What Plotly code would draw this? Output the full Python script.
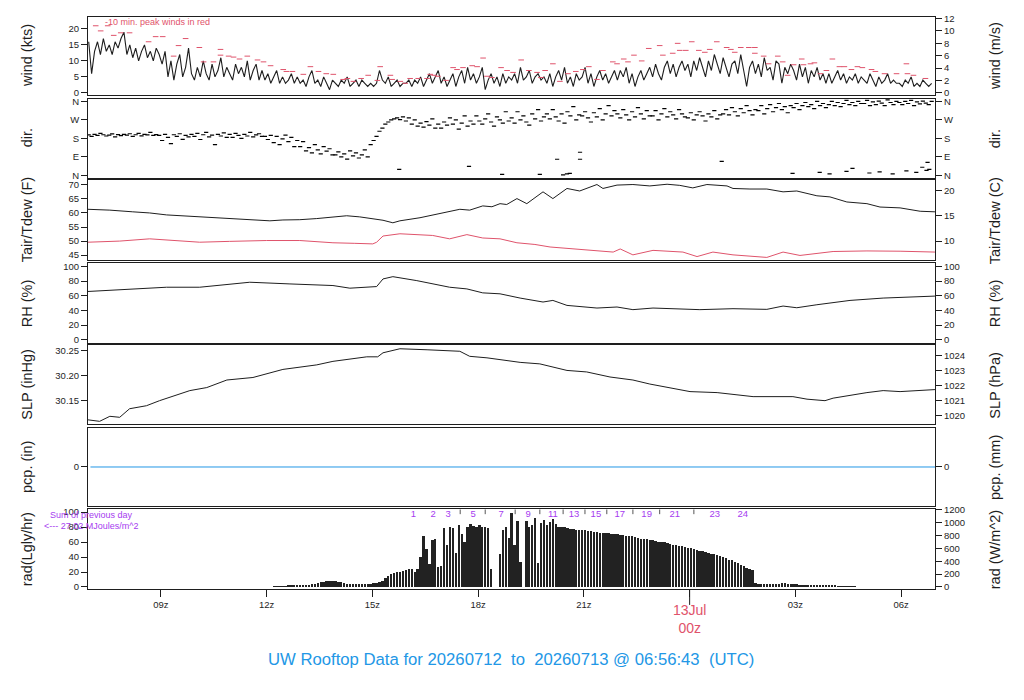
import numpy as np
import pandas as pd
import plotly.graph_objects as go

# ---------------- time helpers ----------------
BASE = pd.Timestamp("2026-07-12 00:00")
SERIES_START = "2026-07-12 06:57"
X0 = pd.Timestamp("2026-07-12 06:55:50")
X1 = pd.Timestamp("2026-07-13 06:57:40")


def hrs(h):
    return BASE + pd.to_timedelta(np.asarray(h, dtype=float), unit="h")


# ---------------- data ----------------
# 5-minute wind speed (kts), one row per hour starting 06:57z
wind_kts_rows = [
    [16, 6, 13, 16, 12, 17, 13, 15, 12, 16, 14, 17],
    [19, 12, 15, 11, 14, 10, 13, 15, 11, 13, 10, 14],
    [12, 9, 13, 5, 10, 4, 9, 12, 5, 8, 14, 6],
    [4, 8, 5, 10, 6, 4, 9, 5, 7, 11, 5, 8],
    [6, 4, 9, 6, 8, 5, 10, 4, 7, 9, 4, 7],
    [4, 6, 3, 5, 7, 3, 5, 3, 4, 6, 3, 5],
    [3, 4, 2, 5, 7, 3, 4, 2, 5, 3, 1, 4],
    [3, 2, 4, 3, 5, 2, 3, 4, 2, 4, 3, 2],
    [3, 2, 3, 7, 4, 3, 5, 2, 3, 4, 2, 3],
    [3, 4, 2, 4, 3, 5, 2, 4, 6, 3, 5, 7],
    [3, 5, 2, 4, 6, 2, 5, 7, 3, 8, 4, 6],
    [3, 5, 8, 1, 4, 6, 3, 5, 2, 6, 3, 5],
    [4, 6, 3, 8, 4, 5, 7, 3, 5, 6, 4, 5],
    [3, 6, 2, 5, 7, 4, 8, 3, 5, 2, 6, 4],
    [5, 8, 3, 6, 2, 5, 7, 4, 6, 3, 5, 7],
    [4, 7, 5, 8, 3, 6, 2, 5, 7, 4, 6, 8],
    [5, 9, 6, 4, 8, 10, 6, 9, 5, 8, 10, 7],
    [9, 5, 10, 7, 11, 8, 5, 10, 7, 12, 9, 6],
    [11, 8, 5, 9, 10, 6, 12, 7, 2, 8, 10, 6],
    [9, 5, 11, 7, 8, 4, 10, 9, 3, 8, 6, 9],
    [7, 4, 9, 5, 8, 3, 7, 5, 8, 4, 6, 3],
    [6, 3, 5, 7, 4, 6, 3, 5, 4, 6, 3, 5],
    [4, 3, 6, 4, 2, 5, 3, 4, 6, 3, 4, 3],
    [3, 2, 4, 3, 5, 2, 3, 2, 4, 3, 2, 3],
]

# 10-minute peak winds (hours after 00z Jul 12, kts)
peak_hours = [7.15, 7.29, 7.49, 7.66, 7.86, 8.11, 8.65, 8.85, 9.05, 9.36, 9.50, 9.70,
              10.09, 10.21, 10.49, 10.69, 10.69, 10.92, 11.06, 11.23, 11.45, 11.74, 11.91,
              12.11, 12.47, 12.56, 12.73, 13.04, 13.24, 13.47, 13.69, 13.89, 14.17, 14.29,
              14.46, 14.68, 14.88, 15.14, 15.22, 15.51, 15.56, 15.79, 15.93, 16.07, 16.30,
              16.55, 16.64, 16.75, 16.86, 17.09, 17.29, 17.40, 17.57, 17.83, 17.97, 18.14,
              18.25, 18.39, 18.65, 18.82, 18.99, 19.22, 19.44, 19.67, 19.78, 19.90, 20.12,
              20.32, 20.55, 20.77, 20.97, 21.14, 21.37, 21.54, 21.82, 21.94, 22.13, 22.25,
              22.42, 22.64, 22.84, 23.15, 23.24, 23.52, 23.66, 23.72, 23.89, 24.06, 24.26,
              24.43, 24.57, 24.77, 25.05, 25.17, 25.28, 25.45, 25.68, 25.85, 25.85, 26.10,
              26.24, 26.50, 26.64, 26.78, 26.95, 27.18, 27.23, 27.43, 27.54, 27.71, 27.88,
              28.05, 28.25, 28.39, 28.59, 28.76, 28.90, 29.16, 29.27, 29.53, 29.87, 30.15,
              30.18, 30.35, 30.69]
peak_kts = [21.0, 19.4, 21.0, 18.0, 18.8, 18.8, 16.0, 17.6, 17.6, 11.5, 14.8, 17.0,
            14.2, 9.7, 9.7, 13.6, 11.8, 11.5, 11.2, 10.6, 11.5, 10.3, 9.7,
            8.5, 7.3, 6.7, 6.7, 5.8, 8.2, 6.7, 6.0, 5.8, 4.2, 4.5,
            3.6, 4.5, 5.5, 3.9, 8.2, 5.5, 4.2, 3.6, 3.0, 4.5, 4.5,
            4.5, 5.8, 5.5, 5.2, 3.9, 7.9, 7.3, 7.9, 8.5, 8.2, 10.9,
            5.2, 4.8, 7.9, 7.0, 6.4, 10.3, 7.0, 6.4, 4.8, 7.0, 9.1,
            3.6, 6.0, 6.7, 7.3, 8.2, 4.2, 7.0, 9.7, 9.1, 10.6, 9.7,
            11.8, 10.0, 13.9, 14.8, 11.8, 12.4, 15.5, 13.3, 13.3, 16.0, 13.3,
            12.7, 13.6, 16.0, 14.2, 13.6, 12.7, 14.2, 14.2, 14.2, 12.4, 11.5,
            9.1, 11.5, 9.7, 5.5, 8.8, 10.6, 8.8, 9.1, 9.4, 6.0, 7.0,
            10.6, 8.2, 8.2, 7.3, 8.2, 7.9, 7.3, 6.7, 6.0, 6.0, 9.1,
            6.0, 5.5, 4.5]

# 5-minute wind direction (degrees), one row per hour starting 06:57z
dir_deg_rows = [
    [197, 190, 200, 195, 205, 198, 192, 196, 202, 188, 199, 194],
    [200, 196, 203, 190, 198, 205, 193, 200, 197, 210, 195, 199],
    [195, 170, 200, 185, 155, 198, 190, 203, 176, 195, 188, 200],
    [190, 205, 175, 198, 210, 188, 196, 150, 200, 192, 207, 185],
    [200, 185, 205, 195, 180, 200, 192, 210, 188, 197, 203, 190],
    [190, 175, 195, 160, 190, 150, 178, 196, 165, 185, 140, 170],
    [140, 165, 120, 135, 110, 150, 125, 105, 140, 118, 130, 100],
    [100, 115, 90, 105, 80, 120, 95, 110, 85, 100, 125, 90],
    [150, 170, 190, 215, 230, 250, 260, 270, 275, 280, 272, 285],
    [265, 280, 250, 270, 240, 255, 235, 262, 245, 275, 230, 250],
    [230, 260, 245, 280, 250, 270, 225, 255, 290, 240, 265, 250],
    [290, 265, 250, 275, 300, 260, 240, 285, 270, 255, 310, 265],
    [280, 255, 310, 270, 290, 260, 245, 300, 275, 320, 265, 285],
    [300, 275, 320, 285, 265, 300, 255, 310, 290, 335, 270, 295],
    [290, 310, 280, 260, 305, 285, 325, 270, 300, 340, 290, 315],
    [300, 280, 320, 295, 270, 310, 285, 330, 300, 275, 315, 290],
    [290, 315, 270, 300, 325, 285, 310, 295, 275, 320, 300, 285],
    [280, 305, 270, 295, 310, 290, 265, 300, 285, 315, 275, 295],
    [300, 320, 295, 330, 310, 290, 325, 305, 340, 315, 295, 320],
    [315, 340, 300, 325, 345, 310, 330, 350, 320, 335, 305, 340],
    [330, 350, 320, 340, 355, 335, 345, 325, 360, 340, 350, 330],
    [345, 360, 340, 355, 335, 350, 365, 345, 355, 340, 360, 350],
    [350, 365, 340, 358, 345, 362, 352, 340, 368, 355, 345, 360],
    [355, 345, 360, 350, 365, 340, 358, 348, 362, 352, 345, 360],
]
# isolated direction readings far from the main trend
dir_out_hours = [15.76, 17.74, 18.68, 19.75, 20.24, 20.41, 20.52, 20.60, 20.89, 20.89,
                 24.91, 26.92, 27.69, 27.97, 28.45, 28.62, 29.10, 29.39, 29.76, 30.15,
                 30.43, 30.60, 30.72, 30.75, 30.80]
dir_out_deg = [30, 44, 5, 5, 79, 3, 8, 10, 79, 113,
               69, 10, 15, 8, 20, 35, 12, 18, 8, 22,
               15, 40, 25, 64, 30]

# air temperature / dew point (F)
tair_hours = [6.93, 7.55, 8.20, 8.68, 9.16, 10.10, 11.04, 11.52, 12.09, 12.46, 12.94, 13.42,
              13.88, 14.27, 14.64, 14.84, 15.30, 15.58, 15.78, 16.35, 17.00, 17.48, 17.76,
              18.13, 18.39, 18.62, 18.81, 19.10, 19.38, 19.84, 20.12, 20.52, 20.88, 21.37,
              21.54, 21.94, 22.39, 22.87, 23.36, 23.72, 24.09, 24.49, 25.06, 25.23, 25.71,
              26.19, 26.65, 27.04, 27.61, 27.98, 28.46, 29.03, 29.40, 29.97, 30.54, 30.96]
tair_f = [61.3, 61.0, 60.4, 60.0, 59.3, 58.6, 58.0, 57.5, 57.2, 57.5, 57.6, 58.0,
          58.4, 59.0, 58.6, 58.2, 57.4, 56.5, 57.2, 58.3, 60.0, 61.3, 61.0,
          62.5, 62.2, 63.3, 63.0, 65.1, 63.3, 67.5, 65.1, 68.7, 67.8, 70.1,
          68.7, 69.9, 70.1, 69.6, 70.2, 69.8, 68.9, 70.1, 69.6, 68.7, 68.5,
          68.5, 67.5, 67.8, 66.1, 65.7, 63.9, 63.3, 62.1, 61.8, 60.6, 60.4]
tdew_hours = [6.93, 7.83, 8.68, 9.39, 10.10, 10.95, 12.00, 12.94, 13.88, 14.50, 15.01, 15.12,
              15.30, 15.78, 16.26, 16.71, 17.19, 17.68, 18.13, 18.62, 19.10, 19.61, 20.04,
              20.98, 21.83, 22.03, 22.39, 22.96, 23.81, 24.21, 24.66, 25.23, 26.19, 26.65,
              27.13, 28.07, 29.03, 29.97, 30.96]
tdew_f = [49.6, 50.0, 50.8, 50.3, 49.6, 49.9, 50.2, 50.2, 49.4, 49.2, 49.0, 49.6,
          51.8, 52.6, 52.3, 52.0, 50.8, 52.3, 51.1, 50.8, 49.4, 48.8, 47.9,
          47.0, 46.1, 47.2, 45.1, 46.7, 46.1, 44.5, 46.1, 45.1, 44.2, 46.1,
          44.9, 46.3, 46.5, 46.4, 46.1]

# relative humidity (%)
rh_hours = [6.93, 7.83, 9.16, 10.10, 11.52, 12.66, 13.88, 14.36, 15.12, 15.30, 15.58, 16.26,
            16.71, 17.19, 17.68, 18.13, 18.62, 19.19, 19.84, 20.12, 20.52, 21.37, 21.94,
            22.39, 22.96, 24.29, 25.23, 26.19, 26.65, 27.04, 27.61, 28.55, 29.49, 30.96]
rh_pct = [65.8, 68.5, 71.6, 71.6, 78.4, 76.1, 73.9, 70.3, 72.5, 82.9, 86.0, 80.6,
          76.1, 71.6, 69.3, 63.9, 62.6, 56.8, 51.4, 53.6, 46.8, 43.2, 44.6,
          41.0, 43.2, 41.0, 42.3, 41.4, 45.9, 43.6, 47.7, 53.6, 56.8, 59.5]

# sea level pressure (inHg)
slp_hours = [6.93, 7.26, 7.55, 7.83, 8.11, 8.59, 8.96, 9.33, 9.82, 10.30, 10.87, 11.61,
             12.46, 13.42, 13.88, 14.84, 15.15, 15.30, 15.78, 16.55, 17.48, 17.76, 18.25,
             19.19, 19.75, 20.52, 21.08, 21.74, 22.39, 22.87, 23.36, 24.01, 24.78, 25.80,
             26.93, 27.33, 27.84, 28.07, 29.03, 29.49, 29.97, 30.96]
slp_inhg = [30.112, 30.109, 30.119, 30.117, 30.134, 30.140, 30.150, 30.158, 30.170, 30.176,
            30.191, 30.196, 30.212, 30.221, 30.228, 30.237, 30.237, 30.245, 30.253, 30.251,
            30.248, 30.238, 30.235, 30.226, 30.223, 30.210, 30.207, 30.197, 30.191, 30.183,
            30.177, 30.168, 30.166, 30.158, 30.158, 30.153, 30.150, 30.155, 30.166, 30.170,
            30.168, 30.172]

# precipitation (in), hourly
pcp_hours = [7, 8, 9, 10, 11, 12, 13, 14, 15, 16, 17, 18, 19, 20, 21, 22, 23, 24,
             25, 26, 27, 28, 29, 30, 31]
pcp_in = [0, 0, 0, 0, 0, 0, 0, 0, 0, 0, 0, 0, 0, 0, 0, 0, 0, 0,
          0, 0, 0, 0, 0, 0, 0]

# 5-minute solar radiation (Langley/hr), one row per hour starting 06:57z
rad_rows = [
    [0, 0, 0, 0, 0, 0, 0, 0, 0, 0, 0, 0],
    [0, 0, 0, 0, 0, 0, 0, 0, 0, 0, 0, 0],
    [0, 0, 0, 0, 0, 0, 0, 0, 0, 0, 0, 0],
    [0, 0, 0, 0, 0, 0, 0, 0, 0, 0, 0, 0],
    [0, 0, 0, 0, 0, 0, 0, 0, 0, 0, 0, 0],
    [0, 0, 0, 0.5, 0.5, 0.5, 0.5, 0.5, 0.8, 0.8, 1, 1],
    [1, 1.2, 1.5, 2, 3, 4, 5, 6, 6.5, 7, 7, 7],
    [7, 6.5, 6, 5, 4, 3.5, 3, 3, 3, 3.2, 3.5, 3.8],
    [4, 4.5, 5, 6, 8, 11, 14, 17, 18, 19, 20, 21],
    [22, 23, 24, 20, 24, 40, 68, 50, 30, 62, 64, 26],
    [28, 78, 55, 79, 78, 45, 82, 70, 60, 80, 83, 81],
    [80, 82, 79, 80, 78, 24, 0, 0, 44, 76, 80, 65],
    [98, 55, 87, 33, 0, 87, 80, 82, 91, 31, 85, 89],
    [82, 86, 90, 84, 80, 80, 79, 78, 77, 77, 76, 76],
    [75, 75, 74, 74, 73, 73, 72, 72, 71, 71, 70, 70],
    [70, 69, 69, 68, 67, 67, 66, 65, 64, 64, 63, 62],
    [62, 61, 60, 59, 59, 58, 57, 56, 55, 54, 54, 53],
    [52, 51, 50, 49, 48, 47, 46, 45, 44, 43, 42, 41],
    [40, 38, 36, 35, 33, 31, 29, 27, 25, 23, 22, 5],
    [4, 3.5, 4, 3, 4, 3.5, 3, 4, 4.5, 5, 4, 3.5],
    [3, 3, 2.5, 2.5, 2, 2, 2, 1.8, 1.5, 1.5, 1.2, 1],
    [1, 0.8, 0.8, 0.6, 0.5, 0.5, 0.4, 0.3, 0.2, 0.1, 0, 0],
    [0, 0, 0, 0, 0, 0, 0, 0, 0, 0, 0, 0],
    [0, 0, 0, 0, 0, 0, 0, 0, 0, 0, 0, 0],
]
# hourly cumulative-radiation markers
rad_label_hours = [16.16, 16.72, 17.15, 17.86, 18.65, 19.42, 20.12, 20.72, 21.34, 22.02,
                   22.78, 23.58, 24.71, 25.51]
rad_label_text = ["1", "2", "3", "5", "7", "9", "11", "13", "15", "17", "19", "21", "23", "24"]
rad_tick_hours = [17.49, 18.20, 19.05, 19.75, 20.41, 21.03, 21.65, 22.39, 23.15, 24.12]
rad_prev_day_mj = "27.02"

# axis tick labels
x_tick_hours = [9, 12, 15, 18, 21, 24, 27, 30]
x_tick_text = ["09z", "12z", "15z", "18z", "21z", "", "03z", "06z"]
dir_tick_deg = [0, 90, 180, 270, 360]
dir_tick_text = ["N", "E", "S", "W", "N"]

# ---------------- derived series (unit conversions) ----------------
wind_kts = [v for row in wind_kts_rows for v in row]
dir_deg = [v for row in dir_deg_rows for v in row]
rad_ly = [v for row in rad_rows for v in row]
t_wind = pd.date_range(SERIES_START, periods=len(wind_kts), freq="5min")
t_dir = pd.date_range(SERIES_START, periods=len(dir_deg), freq="5min")
t_rad = pd.date_range(SERIES_START, periods=len(rad_ly), freq="5min")

KT2MS = 0.514444
INHG2HPA = 33.8639
LY2WM2 = 11.622

# ---------------- styling ----------------
RED = "#DF536B"
BLUE = "#2297E6"
PURPLE = "#A63CF0"
INK = "#1e1e1e"
FONT = "Liberation Sans, Arial, Helvetica, sans-serif"
TICKFONT = dict(family=FONT, size=9.5, color=INK)

W, H = 1024, 700
PT, PB = 14, 589          # plot-area top / bottom in px
PH = PB - PT
panels = [(14, 92.5), (96.5, 175.5), (178.3, 258.3), (261.7, 341.7),
          (344, 423.3), (426.7, 506), (509, PB)]


def dom(top, bot):
    return [(PB - bot) / PH, (PB - top) / PH]


left_ranges = [[-0.7, 23.75], [-10.6, 371.6], [43.27, 71.55], [-4.5, 104.1],
               [30.1034, 30.2599], [-1, 1], [-2.7, 103.6]]
conv = [lambda v: v * KT2MS, lambda v: v, lambda v: (v - 32) / 1.8, lambda v: v,
        lambda v: v * INHG2HPA, lambda v: v * 25.4, lambda v: v * LY2WM2]
left_ticks = [([0, 5, 10, 15, 20], None), (dir_tick_deg, dir_tick_text),
              ([45, 50, 55, 60, 65, 70], None), ([0, 20, 40, 60, 80, 100], None),
              ([30.15, 30.20, 30.25], ["30.15", "30.20", "30.25"]), ([0], None),
              ([0, 20, 40, 60, 80, 100], None)]
right_ticks = [([0, 2, 4, 6, 8, 10, 12], None), (dir_tick_deg, dir_tick_text),
               ([10, 15, 20], None), ([0, 20, 40, 60, 80, 100], None),
               ([1020, 1021, 1022, 1023, 1024], None), ([0], None),
               ([0, 200, 400, 600, 800, 1000, 1200], None)]
left_titles = ["wind (kts)", "dir.", "Tair/Tdew (F)", "RH (%)", "SLP (inHg)", "pcp. (in)",
               "rad(Lgly/hr)"]
right_titles = ["wind (m/s)", "dir.", "Tair/Tdew (C)", "RH (%)", "SLP (hPa)", "pcp. (mm)",
                "rad (W/m^2)"]

fig = go.Figure()


def ax(i):
    return "" if i == 1 else str(i)


# ---------------- traces ----------------
# wind
fig.add_trace(go.Scatter(x=t_wind, y=wind_kts, mode="lines",
                         line=dict(color=INK, width=1.1), xaxis="x", yaxis="y"))
fig.add_trace(go.Scatter(x=hrs(peak_hours), y=peak_kts, mode="markers",
                         marker=dict(symbol="line-ew", size=4, color=RED,
                                     line=dict(color=RED, width=1)),
                         xaxis="x", yaxis="y"))
# direction
dir_marker = dict(symbol="line-ew", size=3, color="black", line=dict(color="black", width=1.2))
fig.add_trace(go.Scatter(x=t_dir, y=dir_deg, mode="markers", marker=dir_marker,
                         xaxis="x2", yaxis="y2"))
fig.add_trace(go.Scatter(x=hrs(dir_out_hours), y=dir_out_deg, mode="markers",
                         marker=dir_marker, xaxis="x2", yaxis="y2"))
# temperature
fig.add_trace(go.Scatter(x=hrs(tair_hours), y=tair_f, mode="lines",
                         line=dict(color=INK, width=1), xaxis="x3", yaxis="y3"))
fig.add_trace(go.Scatter(x=hrs(tdew_hours), y=tdew_f, mode="lines",
                         line=dict(color=RED, width=1), xaxis="x3", yaxis="y3"))
# RH
fig.add_trace(go.Scatter(x=hrs(rh_hours), y=rh_pct, mode="lines",
                         line=dict(color=INK, width=1), xaxis="x4", yaxis="y4"))
# SLP
fig.add_trace(go.Scatter(x=hrs(slp_hours), y=slp_inhg, mode="lines",
                         line=dict(color=INK, width=1), xaxis="x5", yaxis="y5"))
# precipitation
fig.add_trace(go.Scatter(x=hrs(pcp_hours), y=pcp_in, mode="lines",
                         line=dict(color=BLUE, width=1), xaxis="x6", yaxis="y6"))
# radiation
fig.add_trace(go.Bar(x=t_rad, y=rad_ly, width=4 * 60 * 1000,
                     marker=dict(color="#222222", line=dict(width=0)),
                     xaxis="x7", yaxis="y7"))
fig.add_trace(go.Scatter(x=hrs(rad_label_hours), y=[96] * len(rad_label_hours),
                         mode="text", text=rad_label_text,
                         textfont=dict(family=FONT, size=9.5, color=PURPLE),
                         xaxis="x7", yaxis="y7"))
fig.add_trace(go.Scatter(x=hrs(rad_tick_hours), y=[101] * len(rad_tick_hours),
                         mode="markers",
                         marker=dict(symbol="line-ns", size=4, color="#555",
                                     line=dict(color="#555", width=1)),
                         xaxis="x7", yaxis="y7"))

# invisible companions so that the right-hand unit axes are drawn
companions = [
    (t_wind, wind_kts), (t_dir, dir_deg), (hrs(tair_hours), tair_f),
    (hrs(rh_hours), rh_pct), (hrs(slp_hours), slp_inhg), (hrs(pcp_hours), pcp_in),
    (t_rad, rad_ly),
]
for i, (xx, yy) in enumerate(companions, start=1):
    fig.add_trace(go.Scatter(x=xx, y=[conv[i - 1](v) for v in yy], mode="lines",
                             opacity=0, hoverinfo="skip",
                             xaxis="x" + ax(i), yaxis="y" + str(i + 7)))

# ---------------- axes ----------------
layout = dict(
    width=W, height=H, autosize=False,
    margin=dict(l=88, r=89, t=PT, b=H - PB, pad=0),
    paper_bgcolor="white", plot_bgcolor="white",
    showlegend=False, bargap=0,
    font=dict(family=FONT, color=INK),
)
tick_dt = hrs(x_tick_hours)
for i in range(1, 8):
    top, bot = panels[i - 1]
    bottom_panel = (i == 7)
    layout["xaxis" + ax(i)] = dict(
        domain=[0, 1], anchor="y" + ax(i), range=[X0, X1], type="date",
        showline=True, mirror=True, linecolor=INK, linewidth=1,
        showgrid=False, zeroline=False,
        ticks="outside" if bottom_panel else "", ticklen=7, tickcolor=INK,
        tickvals=list(tick_dt), ticktext=x_tick_text,
        showticklabels=bottom_panel, tickfont=dict(family=FONT, size=9.5, color=INK),
        **({} if i == 1 else {"matches": "x"}),
    )
    lt, ltxt = left_ticks[i - 1]
    ydict = dict(
        domain=dom(top, bot), anchor="x" + ax(i), range=left_ranges[i - 1],
        showline=True, mirror=True, linecolor=INK, linewidth=1,
        showgrid=False, zeroline=False, ticks="outside", ticklen=6, tickcolor=INK,
        tickvals=lt, tickfont=TICKFONT,
    )
    if ltxt is not None:
        ydict["ticktext"] = ltxt
    layout["yaxis" + ax(i)] = ydict
    rt, rtxt = right_ticks[i - 1]
    lo, hi = left_ranges[i - 1]
    rdict = dict(
        overlaying="y" + ax(i), side="right", anchor="x" + ax(i),
        range=[conv[i - 1](lo), conv[i - 1](hi)],
        showline=False, showgrid=False, zeroline=False,
        ticks="outside", ticklen=6, tickcolor=INK, tickvals=rt, tickfont=TICKFONT,
    )
    if rtxt is not None:
        rdict["ticktext"] = rtxt
    layout["yaxis" + str(i + 7)] = rdict

fig.update_layout(**layout)

# ---------------- text ----------------
ann = []
for i in range(7):
    top, bot = panels[i]
    yc = (PB - (top + bot) / 2) / PH
    ann.append(dict(text=left_titles[i], x=(27 - 88) / 847, y=yc, xref="paper", yref="paper",
                    textangle=-90, showarrow=False, xanchor="center", yanchor="middle",
                    font=dict(family=FONT, size=14.5, color=INK)))
    ann.append(dict(text=right_titles[i], x=(995 - 88) / 847, y=yc, xref="paper",
                    yref="paper", textangle=-90, showarrow=False, xanchor="center",
                    yanchor="middle", font=dict(family=FONT, size=14.5, color=INK)))

ann.append(dict(text="-10 min. peak winds in red", x=(103 - 88) / 847, y=(PB - 19) / PH,
                xref="paper", yref="paper", xanchor="left", yanchor="middle",
                showarrow=False, font=dict(family=FONT, size=9, color=RED)))
ann.append(dict(text="Sum of previous day", x=(91 - 88) / 847, y=(PB - 515) / PH,
                xref="paper", yref="paper", xanchor="center", yanchor="middle",
                showarrow=False, font=dict(family=FONT, size=9, color=PURPLE)))
ann.append(dict(text="<--- " + rad_prev_day_mj + " MJoules/m^2", x=(91 - 88) / 847,
                y=(PB - 526) / PH, xref="paper", yref="paper", xanchor="center",
                yanchor="middle", showarrow=False,
                font=dict(family=FONT, size=9, color=PURPLE)))
ann.append(dict(text="13Jul<br>00z", x=hrs([24])[0], y=(PB - 600) / PH, xref="x7",
                yref="paper", xanchor="center", yanchor="top", showarrow=False,
                font=dict(family=FONT, size=14, color=RED)))
ann.append(dict(text="UW Rooftop Data for 20260712\u00a0\u00a0to\u00a0\u00a020260713 @ 06:56:43\u00a0\u00a0(UTC)",
                x=(511 - 88) / 847, y=(PB - 660) / PH, xref="paper", yref="paper",
                xanchor="center", yanchor="middle", showarrow=False,
                font=dict(family=FONT, size=16.7, color=BLUE)))
fig.update_layout(annotations=ann)

# longer tick at the date change
fig.add_shape(type="line", x0=hrs([24])[0], x1=hrs([24])[0], y0=0, y1=(PB - 605) / PH,
              xref="x7", yref="paper", line=dict(color=INK, width=1))

fig.write_html("out.html", config={"displayModeBar": False},
               post_script="document.body.style.margin='0px';document.body.style.padding='0px';")
